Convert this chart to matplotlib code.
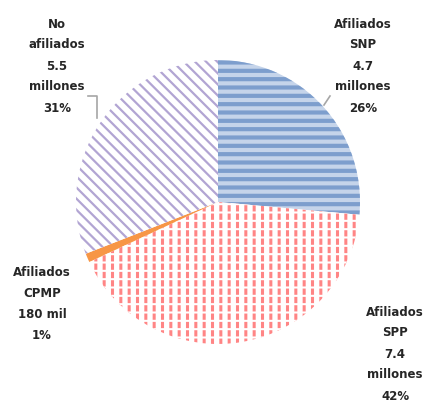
import numpy as np
import matplotlib
matplotlib.use("Agg")
import matplotlib.pyplot as plt

# afiliados por sistema (millones)
groups = ["SNP", "SPP", "CPMP", "No afiliados"]
values = [4.7, 7.4, 0.18, 5.5]
labels = [
    "Afiliados\nSNP\n4.7\nmillones\n26%",
    "Afiliados\nSPP\n7.4\nmillones\n42%",
    "Afiliados\nCPMP\n180 mil\n1%",
    "No\nafiliados\n5.5\nmillones\n31%",
]

faces = ["#c5d4ea", "white", "#f79646", "white"]
hatch_cols = ["#7d9ecd", "#ff8585", "#f79646", "#b2a5d3"]
hatches = ["--", "||", "", "\\\\\\"]
hatch_lw = [3.0, 2.2, 1.0, 1.6]

# label positions in pixel space (x, y from top)
label_pos = [(363, 66), (395, 354), (42, 304), (57, 66)]

W, H = 426, 405
fig = plt.figure(figsize=(W / 100, H / 100), dpi=100)
ax = fig.add_axes([0, 0, 1, 1])

cx, cy, r = 218, H - 202, 142
wedges, _ = ax.pie(values, startangle=90, counterclock=False,
                   center=(cx, cy), radius=r, frame=True,
                   wedgeprops=dict(linewidth=0))
for w, fc, hc, h, lw in zip(wedges, faces, hatch_cols, hatches, hatch_lw):
    w.set_facecolor(fc)
    w.set_edgecolor(hc)
    w.set_hatch(h)
    if hasattr(w, "set_hatch_linewidth"):
        w.set_hatch_linewidth(lw)

# white horizontal breaks turn the SPP lines into dashes
spp = wedges[1]
brk = matplotlib.patches.Wedge((cx, cy), r, spp.theta1, spp.theta2,
                               facecolor="none", edgecolor="white",
                               hatch="--", linewidth=0)
if hasattr(brk, "set_hatch_linewidth"):
    brk.set_hatch_linewidth(1.5)
ax.add_patch(brk)

ax.set_xlim(0, W)
ax.set_ylim(0, H)
ax.set_aspect("equal")
ax.axis("off")

for txt, (x, y) in zip(labels, label_pos):
    ax.text(x, H - y, txt, ha="center", va="center", fontsize=8.5,
            fontweight="bold", color="#262626", linespacing=1.8,
            family="DejaVu Sans")

# leader lines
ax.plot([88, 97, 97], [H - 96, H - 96, H - 118], color="#a6a6a6", lw=1.2)
ax.plot([324, 330], [H - 105, H - 96], color="#a6a6a6", lw=1.2)

fig.savefig("out.png", dpi=100)
